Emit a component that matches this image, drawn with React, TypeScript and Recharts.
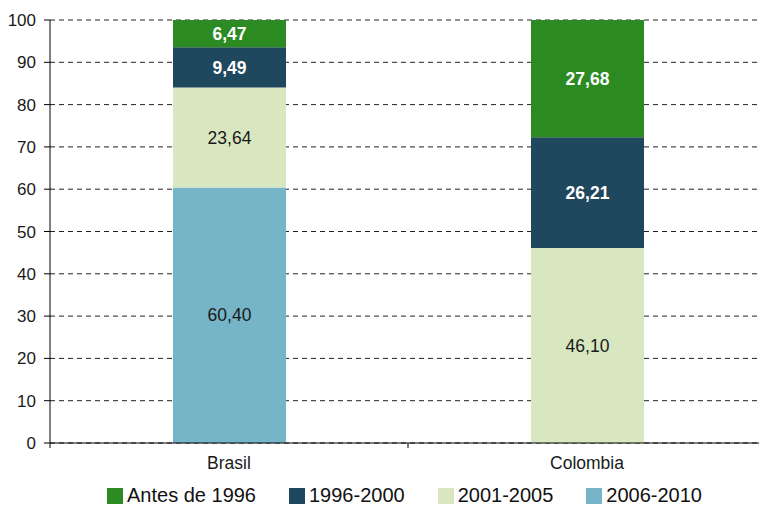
import React from "react";
import {
  BarChart,
  Bar,
  XAxis,
  YAxis,
  CartesianGrid,
  Legend,
  LabelList,
} from "recharts";

// categories and shares (%) by period of arrival
const countries = ["Brasil", "Colombia"];
const antes1996 = [6.47, 27.68];
const p1996_2000 = [9.49, 26.21];
const p2001_2005 = [23.64, 46.1];
const p2006_2010: (number | null)[] = [60.4, null];
const yTicks = [0, 10, 20, 30, 40, 50, 60, 70, 80, 90, 100];

const data = countries.map((c, i) => ({
  country: c,
  p2006: p2006_2010[i],
  p2001: p2001_2005[i],
  p1996: p1996_2000[i],
  antes: antes1996[i],
}));

const series = [
  { key: "antes", name: "Antes de 1996", color: "#2b8b22", label: "#ffffff", bold: true },
  { key: "p1996", name: "1996-2000", color: "#1f475d", label: "#ffffff", bold: true },
  { key: "p2001", name: "2001-2005", color: "#d8e7c0", label: "#1a1a1a", bold: false },
  { key: "p2006", name: "2006-2010", color: "#75b5c7", label: "#1a1a1a", bold: false },
];

const font = "'Liberation Sans', Arial, sans-serif";
const fmt = (v: any) => (v == null ? "" : Number(v).toFixed(2).replace(".", ","));

const CountryTick = (props: any) => {
  const { x, y, payload, index, width, visibleTicksCount } = props;
  const half =
    payload && payload.offset ? payload.offset : width / (visibleTicksCount || 1) / 2;
  return (
    <g>
      {index === 0 && (
        <line x1={x - half} x2={x - half} y1={y} y2={y + 5} stroke="#000" />
      )}
      <line x1={x + half} x2={x + half} y1={y} y2={y + 5} stroke="#000" />
      <text x={x} y={y + 26} textAnchor="middle" fill="#1a1a1a" fontSize={17.5} fontFamily={font}>
        {payload.value}
      </text>
    </g>
  );
};

const LegendBox = () => (
  <div
    style={{
      display: "flex",
      paddingLeft: 107,
      paddingTop: 12,
      fontFamily: font,
      fontSize: 20,
      color: "#111",
      lineHeight: "21px",
      height: 33,
      boxSizing: "border-box",
    }}
  >
    {series.map((s) => (
      <div key={s.key} style={{ display: "flex", alignItems: "center", marginRight: 33 }}>
        <span style={{ width: 16, height: 16, background: s.color, marginRight: 4 }} />
        <span>{s.name}</span>
      </div>
    ))}
  </div>
);

const stackOrder = ["p2006", "p2001", "p1996", "antes"];

export default function App() {
  return (
    <div
      style={{
        position: "absolute",
        top: 0,
        left: 0,
        width: 759,
        height: 506,
        overflow: "hidden",
        background: "#fff",
      }}
    >
      <BarChart
        width={770}
        height={506}
        data={data}
        margin={{ top: 20, right: 4, left: 0, bottom: 0 }}
        barSize={113}
      >
        <CartesianGrid vertical={false} stroke="#222" strokeDasharray="5 4" />
        <XAxis
          dataKey="country"
          height={30}
          axisLine={{ stroke: "#000" }}
          tickLine={false}
          tickSize={0}
          tickMargin={0}
          tick={<CountryTick />}
        />
        <YAxis
          width={50}
          domain={[0, 100]}
          ticks={yTicks}
          axisLine={{ stroke: "#000" }}
          tickLine={{ stroke: "#000" }}
          tickSize={6}
          tickMargin={8}
          tick={{ fill: "#1a1a1a", fontSize: 17, fontFamily: font }}
        />
        <Legend verticalAlign="bottom" height={33} content={<LegendBox />} />
        {stackOrder.map((k) => {
          const s = series.find((x) => x.key === k)!;
          return (
            <Bar
              key={k}
              dataKey={k}
              name={s.name}
              stackId="a"
              fill={s.color}
              isAnimationActive={false}
            >
              <LabelList
                dataKey={k}
                position="center"
                formatter={fmt}
                fill={s.label}
                fontSize={17.5}
                fontWeight={s.bold ? "bold" : "normal"}
                fontFamily={font}
              />
            </Bar>
          );
        })}
      </BarChart>
    </div>
  );
}
